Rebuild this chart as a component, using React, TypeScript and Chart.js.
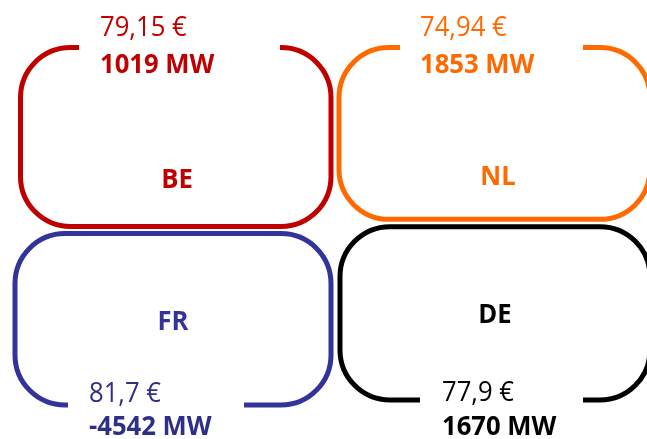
import React, { useEffect, useRef } from "react";
import { Chart, registerables } from "chart.js";
Chart.register(...registerables);

const countries = ["BE", "NL", "FR", "DE"];
const prices = ["79,15 €", "74,94 €", "81,7 €", "77,9 €"];
const flows = ["1019 MW", "1853 MW", "-4542 MW", "1670 MW"];
const colors = ["#C00000", "#FF6A00", "#333399", "#000000"];
const textColors = ["#C00000", "#FF6A00", "#2E3087", "#000000"];

// layout (pixels in a 647x439 frame)
const boxes = [
  { l: 20.5, r: 331, t: 47.5, b: 226.5, gapSide: "top", g0: 79, g1: 280, tx: 100, p: 36, f: 73, cx: 177, cy: 188 },
  { l: 339, r: 650, t: 47.5, b: 219.3, gapSide: "top", g0: 400, g1: 583, tx: 420, p: 36, f: 73, cx: 498, cy: 185 },
  { l: 15, r: 331, t: 233.5, b: 405, gapSide: "bottom", g0: 68, g1: 244, tx: 89, p: 401.5, f: 435, cx: 173, cy: 330 },
  { l: 340, r: 650, t: 226.7, b: 400, gapSide: "bottom", g0: 420, g1: 583, tx: 442, p: 400.5, f: 435, cx: 495, cy: 323 },
];
const R = 50;

const FONT = "'Open Sans', 'DejaVu Sans', sans-serif";

function condensedText(ctx: any, s: string, x: number, y: number, align: string) {
  ctx.save();
  ctx.translate(x, y);
  ctx.scale(0.95, 1);
  ctx.textAlign = align;
  ctx.fillText(s, 0, 0);
  ctx.restore();
}

const boxPlugin = {
  id: "boxes",
  afterDraw(chart: any) {
    const ctx = chart.ctx;
    const xs = chart.scales.x;
    const ys = chart.scales.y;
    const X = (v: number) => xs.getPixelForValue(v);
    const Y = (v: number) => ys.getPixelForValue(v);
    ctx.save();
    countries.forEach((c, i) => {
      const bx = boxes[i];
      const l = X(bx.l), r = X(bx.r), t = Y(bx.t), b = Y(bx.b);
      ctx.strokeStyle = colors[i];
      ctx.lineWidth = 5;
      ctx.lineCap = "butt";
      ctx.beginPath();
      if (bx.gapSide === "top") {
        ctx.moveTo(X(bx.g1), t);
        ctx.arcTo(r, t, r, b, R);
        ctx.arcTo(r, b, l, b, R);
        ctx.arcTo(l, b, l, t, R);
        ctx.arcTo(l, t, r, t, R);
        ctx.lineTo(X(bx.g0), t);
      } else {
        ctx.moveTo(X(bx.g0), b);
        ctx.arcTo(l, b, l, t, R);
        ctx.arcTo(l, t, r, t, R);
        ctx.arcTo(r, t, r, b, R);
        ctx.arcTo(r, b, l, b, R);
        ctx.lineTo(X(bx.g1), b);
      }
      ctx.stroke();

      ctx.fillStyle = textColors[i];
      ctx.textBaseline = "alphabetic";
      ctx.font = `27px ${FONT}`;
      condensedText(ctx, prices[i], X(bx.tx), Y(bx.p), "left");
      ctx.font = `bold 27px ${FONT}`;
      condensedText(ctx, flows[i], X(bx.tx), Y(bx.f), "left");
      ctx.fillStyle = colors[i];
      condensedText(ctx, c, X(bx.cx), Y(bx.cy), "center");
    });
    ctx.restore();
  },
};

export default function App() {
  const ref = useRef<HTMLCanvasElement>(null);
  useEffect(() => {
    document.body.style.margin = "0";
    const chart = new Chart(ref.current as HTMLCanvasElement, {
      type: "scatter",
      data: { datasets: [{ data: [], pointRadius: 0 }] },
      options: {
        animation: false,
        responsive: false,
        maintainAspectRatio: false,
        layout: { padding: 0 },
        plugins: { legend: { display: false }, tooltip: { enabled: false } },
        scales: {
          x: { type: "linear", min: 0, max: 647, display: false },
          y: { type: "linear", min: 0, max: 439, reverse: true, display: false },
        },
      },
      plugins: [boxPlugin],
    });
    return () => chart.destroy();
  }, []);
  return (
    <div style={{ width: 647, height: 439 }}>
      <canvas ref={ref} width={647} height={439} style={{ display: "block" }} />
    </div>
  );
}
